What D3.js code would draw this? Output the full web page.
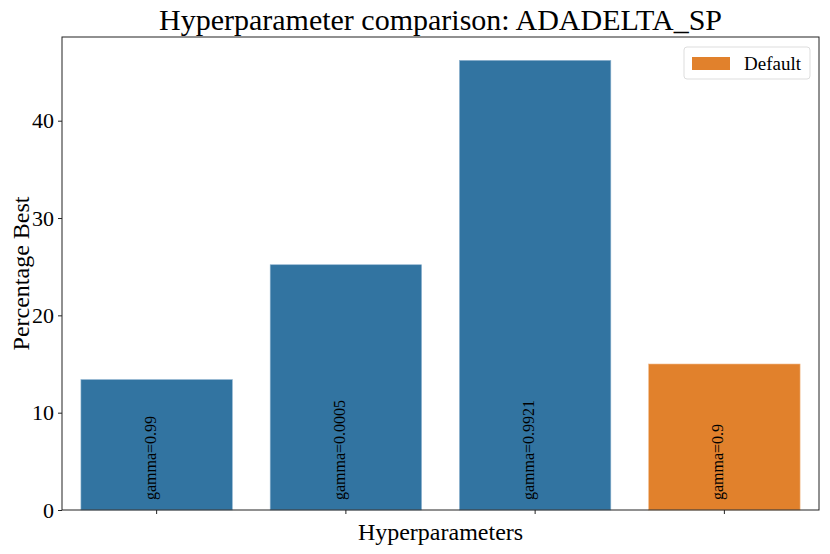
<!DOCTYPE html>
<html>
<head>
<meta charset="utf-8">
<script src="https://cdn.jsdelivr.net/npm/d3@7"></script>
<style>
	body { margin: 0; background: #fff; }
	text { font-family: "Liberation Serif", "DejaVu Serif", serif; fill: #000; }
</style>
</head>
<body>
<div id="chart"></div>
<script>
// data
var params = ["gamma=0.99", "gamma=0.0005", "gamma=0.9921", "gamma=0.9"];
var percentBest = [13.4, 25.2, 46.2, 15.0];
var isDefault = [false, false, false, true];
var yTicks = [0, 10, 20, 30, 40];

(function() {
	var margin = { top: 37, left: 62, right: 11, bottom: 44 },
		width = 830 - margin.left - margin.right,
		height = 554 - margin.top - margin.bottom;

	var svg = d3.select("#chart")
				.append("svg")
				.attr("width", 830)
				.attr("height", 554);

	var g = svg.append("g")
				.attr("transform", "translate(" + margin.left + "," + margin.top + ")");

	var x = d3.scaleBand()
				.domain(params)
				.range([0, width])
				.paddingInner(0.2)
				.paddingOuter(0.1);

	var y = d3.scaleLinear()
				.domain([0, 48.6])
				.range([height, 0]);

	//bars
	g.selectAll(".bar")
		.data(params)
		.enter().append("rect")
		.attr("class", "bar")
		.attr("x", d => x(d))
		.attr("width", x.bandwidth())
		.attr("y", (d, i) => y(percentBest[i]))
		.attr("height", (d, i) => y(0) - y(percentBest[i]))
		.attr("fill", (d, i) => isDefault[i] ? "#e1812c" : "#3274a1")
		.attr("stroke", (d, i) => isDefault[i] ? "#f0b887" : "#8fb4cf")
		.attr("stroke-width", 0.6);

	//labels inside bars
	g.selectAll(".lbl")
		.data(params)
		.enter().append("text")
		.attr("class", "lbl")
		.attr("transform", d => "translate(" + (x(d) + x.bandwidth() / 2 - 1) + "," + (height - 10) + ") rotate(-90)")
		.attr("font-size", 16)
		.text(d => d);

	//axes
	var yAxis = g.append("g")
		.call(d3.axisLeft(y).tickValues(yTicks).tickSize(4).tickPadding(4));
	yAxis.select(".domain").remove();
	yAxis.selectAll("text").attr("font-size", 22).style("font-family", "Liberation Serif, serif");
	yAxis.selectAll("line").attr("stroke", "#222");

	var xAxis = g.append("g")
		.attr("transform", "translate(0," + height + ")")
		.call(d3.axisBottom(x).tickSize(4).tickFormat(""));
	xAxis.select(".domain").remove();
	xAxis.selectAll("line").attr("stroke", "#222");

	//frame
	g.append("rect")
		.attr("width", width)
		.attr("height", height)
		.attr("fill", "none")
		.attr("stroke", "#222")
		.attr("stroke-width", 1);

	//title and axis labels
	svg.append("text")
		.attr("x", margin.left + width / 2)
		.attr("y", 30)
		.attr("text-anchor", "middle")
		.attr("font-size", 30)
		.text("Hyperparameter comparison: ADADELTA_SP");

	svg.append("text")
		.attr("x", margin.left + width / 2)
		.attr("y", 540)
		.attr("text-anchor", "middle")
		.attr("font-size", 24)
		.text("Hyperparameters");

	svg.append("text")
		.attr("transform", "translate(29," + (margin.top + height / 2) + ") rotate(-90)")
		.attr("text-anchor", "middle")
		.attr("font-size", 24)
		.text("Percentage Best");

	//legend
	var leg = svg.append("g").attr("transform", "translate(684,47)");
	leg.append("rect")
		.attr("width", 126).attr("height", 32).attr("rx", 3)
		.attr("fill", "#fff").attr("stroke", "#ddd");
	leg.append("rect")
		.attr("x", 8).attr("y", 10).attr("width", 38).attr("height", 13)
		.attr("fill", "#e1812c");
	leg.append("text")
		.attr("x", 60).attr("y", 23)
		.attr("font-size", 19)
		.text("Default");
})();
</script>
</body>
</html>
